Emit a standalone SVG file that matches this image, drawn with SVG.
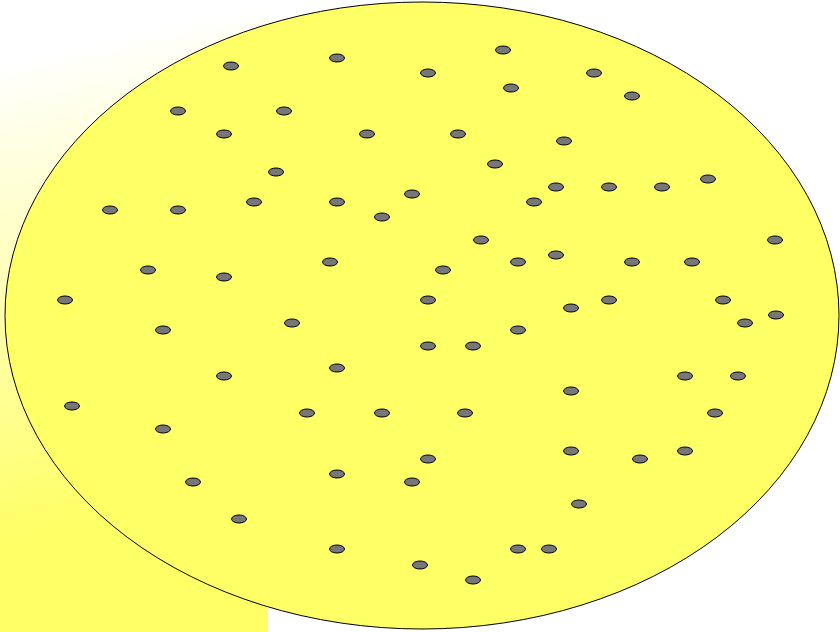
<svg xmlns="http://www.w3.org/2000/svg" width="840" height="632" viewBox="0 0 840 632">
<defs>
<linearGradient id="bg" x1="0" y1="0" x2="0.1" y2="1">
<stop offset="0.1" stop-color="#FFFFFF"/>
<stop offset="0.85" stop-color="#FFFF66"/>
</linearGradient>
<style>
.dot{fill:#777777;stroke:#000000;stroke-width:1}
.disk{fill:#FFFF66;stroke:#000000;stroke-width:1}
</style>
</defs>
<rect x="0" y="0" width="840" height="632" fill="#FFFFFF"/>
<rect x="0" y="0" width="268" height="632" fill="url(#bg)"/>
<g id="disk"><ellipse class="disk" cx="422" cy="315.5" rx="417" ry="313.5"/></g>
<g id="dots">
<ellipse class="dot" cx="231" cy="66" rx="7.5" ry="4"/>
<ellipse class="dot" cx="337" cy="58" rx="7.5" ry="4"/>
<ellipse class="dot" cx="428" cy="73" rx="7.5" ry="4"/>
<ellipse class="dot" cx="503" cy="50" rx="7.5" ry="4"/>
<ellipse class="dot" cx="594" cy="73" rx="7.5" ry="4"/>
<ellipse class="dot" cx="511" cy="88" rx="7.5" ry="4"/>
<ellipse class="dot" cx="632" cy="96" rx="7.5" ry="4"/>
<ellipse class="dot" cx="178" cy="111" rx="7.5" ry="4"/>
<ellipse class="dot" cx="284" cy="111" rx="7.5" ry="4"/>
<ellipse class="dot" cx="224" cy="134" rx="7.5" ry="4"/>
<ellipse class="dot" cx="367" cy="134" rx="7.5" ry="4"/>
<ellipse class="dot" cx="458" cy="134" rx="7.5" ry="4"/>
<ellipse class="dot" cx="564" cy="141" rx="7.5" ry="4"/>
<ellipse class="dot" cx="276" cy="172" rx="7.5" ry="4"/>
<ellipse class="dot" cx="495" cy="164" rx="7.5" ry="4"/>
<ellipse class="dot" cx="708" cy="179" rx="7.5" ry="4"/>
<ellipse class="dot" cx="556" cy="187" rx="7.5" ry="4"/>
<ellipse class="dot" cx="609" cy="187" rx="7.5" ry="4"/>
<ellipse class="dot" cx="662" cy="187" rx="7.5" ry="4"/>
<ellipse class="dot" cx="110" cy="210" rx="7.5" ry="4"/>
<ellipse class="dot" cx="178" cy="210" rx="7.5" ry="4"/>
<ellipse class="dot" cx="254" cy="202" rx="7.5" ry="4"/>
<ellipse class="dot" cx="337" cy="202" rx="7.5" ry="4"/>
<ellipse class="dot" cx="412" cy="194" rx="7.5" ry="4"/>
<ellipse class="dot" cx="382" cy="217" rx="7.5" ry="4"/>
<ellipse class="dot" cx="534" cy="202" rx="7.5" ry="4"/>
<ellipse class="dot" cx="481" cy="240" rx="7.5" ry="4"/>
<ellipse class="dot" cx="775" cy="240" rx="7.5" ry="4"/>
<ellipse class="dot" cx="148" cy="270" rx="7.5" ry="4"/>
<ellipse class="dot" cx="224" cy="277" rx="7.5" ry="4"/>
<ellipse class="dot" cx="330" cy="262" rx="7.5" ry="4"/>
<ellipse class="dot" cx="443" cy="270" rx="7.5" ry="4"/>
<ellipse class="dot" cx="518" cy="262" rx="7.5" ry="4"/>
<ellipse class="dot" cx="556" cy="255" rx="7.5" ry="4"/>
<ellipse class="dot" cx="632" cy="262" rx="7.5" ry="4"/>
<ellipse class="dot" cx="692" cy="262" rx="7.5" ry="4"/>
<ellipse class="dot" cx="65" cy="300" rx="7.5" ry="4"/>
<ellipse class="dot" cx="428" cy="300" rx="7.5" ry="4"/>
<ellipse class="dot" cx="571" cy="308" rx="7.5" ry="4"/>
<ellipse class="dot" cx="609" cy="300" rx="7.5" ry="4"/>
<ellipse class="dot" cx="723" cy="300" rx="7.5" ry="4"/>
<ellipse class="dot" cx="745" cy="323" rx="7.5" ry="4"/>
<ellipse class="dot" cx="776" cy="315" rx="7.5" ry="4"/>
<ellipse class="dot" cx="163" cy="330" rx="7.5" ry="4"/>
<ellipse class="dot" cx="292" cy="323" rx="7.5" ry="4"/>
<ellipse class="dot" cx="518" cy="330" rx="7.5" ry="4"/>
<ellipse class="dot" cx="428" cy="346" rx="7.5" ry="4"/>
<ellipse class="dot" cx="473" cy="346" rx="7.5" ry="4"/>
<ellipse class="dot" cx="337" cy="368" rx="7.5" ry="4"/>
<ellipse class="dot" cx="224" cy="376" rx="7.5" ry="4"/>
<ellipse class="dot" cx="685" cy="376" rx="7.5" ry="4"/>
<ellipse class="dot" cx="738" cy="376" rx="7.5" ry="4"/>
<ellipse class="dot" cx="72" cy="406" rx="7.5" ry="4"/>
<ellipse class="dot" cx="307" cy="413" rx="7.5" ry="4"/>
<ellipse class="dot" cx="382" cy="413" rx="7.5" ry="4"/>
<ellipse class="dot" cx="465" cy="413" rx="7.5" ry="4"/>
<ellipse class="dot" cx="571" cy="391" rx="7.5" ry="4"/>
<ellipse class="dot" cx="715" cy="413" rx="7.5" ry="4"/>
<ellipse class="dot" cx="163" cy="429" rx="7.5" ry="4"/>
<ellipse class="dot" cx="428" cy="459" rx="7.5" ry="4"/>
<ellipse class="dot" cx="571" cy="451" rx="7.5" ry="4"/>
<ellipse class="dot" cx="640" cy="459" rx="7.5" ry="4"/>
<ellipse class="dot" cx="685" cy="451" rx="7.5" ry="4"/>
<ellipse class="dot" cx="337" cy="474" rx="7.5" ry="4"/>
<ellipse class="dot" cx="193" cy="482" rx="7.5" ry="4"/>
<ellipse class="dot" cx="412" cy="482" rx="7.5" ry="4"/>
<ellipse class="dot" cx="579" cy="504" rx="7.5" ry="4"/>
<ellipse class="dot" cx="239" cy="519" rx="7.5" ry="4"/>
<ellipse class="dot" cx="337" cy="549" rx="7.5" ry="4"/>
<ellipse class="dot" cx="518" cy="549" rx="7.5" ry="4"/>
<ellipse class="dot" cx="549" cy="549" rx="7.5" ry="4"/>
<ellipse class="dot" cx="420" cy="565" rx="7.5" ry="4"/>
<ellipse class="dot" cx="473" cy="580" rx="7.5" ry="4"/>
</g>
</svg>
